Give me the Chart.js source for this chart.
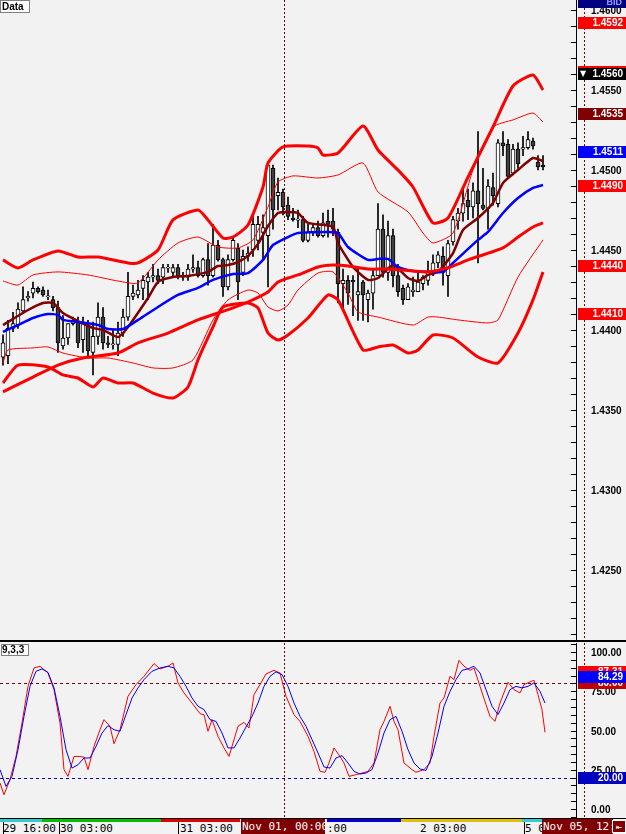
<!DOCTYPE html>
<html><head><meta charset="utf-8">
<script src="https://cdn.jsdelivr.net/npm/chart.js@4.4.1/dist/chart.umd.min.js"></script>
<style>
html,body{margin:0;padding:0;background:#f2f2f2;}
#wrap{position:relative;width:626px;height:834px;overflow:hidden;background:#f2f2f2;font-family:"DejaVu Sans Mono",monospace;}
#c1{position:absolute;left:0;top:0;}
#c2{position:absolute;left:0;top:643px;}
#sep{position:absolute;left:0;top:640px;width:626px;height:2px;background:#000;}
#strip{position:absolute;left:0;top:818px;width:626px;height:16px;background:#f2f2f2;border-top:1px solid #000;box-sizing:border-box;}
.seg{position:absolute;top:0;height:3px;}
.tl{position:absolute;top:3px;font-size:11px;line-height:13px;color:#000;white-space:nowrap;}
.tbox{position:absolute;top:0;height:15px;background:#800000;color:#fff;font-size:11px;line-height:16px;white-space:nowrap;overflow:hidden;}
.tick{position:absolute;top:3px;width:1px;height:12px;background:#000;}
</style></head>
<body><div id="wrap">
<canvas id="c1" width="626" height="640"></canvas>
<div id="sep"></div>
<canvas id="c2" width="626" height="175"></canvas>
<div id="strip"></div>
</div>
<script>
// ---------------- DATA ----------------
const opens = [1.4383,1.4384,1.4401,1.4403,1.4412,1.4420,1.4423,1.4426,1.4425,1.4421,1.4419,1.4414,1.4390,1.4395,1.4404,1.4405,1.4394,1.4403,1.4386,1.4396,1.4408,1.4392,1.4391,1.4391,1.4398,1.4408,1.4421,1.4422,1.4426,1.4430,1.4433,1.4434,1.4433,1.4439,1.4436,1.4439,1.4434,1.4433,1.4438,1.4439,1.4434,1.4444,1.4434,1.4453,1.4444,1.4427,1.4444,1.4451,1.4436,1.4446,1.4450,1.4456,1.4461,1.4459,1.4501,1.4484,1.4486,1.4478,1.4470,1.4469,1.4469,1.4456,1.4461,1.4464,1.4459,1.4468,1.4468,1.4461,1.4429,1.4431,1.4431,1.4422,1.4430,1.4419,1.4423,1.4434,1.4463,1.4436,1.4459,1.4434,1.4426,1.4419,1.4424,1.4424,1.4429,1.4431,1.4436,1.4442,1.4446,1.4434,1.4455,1.4468,1.4473,1.4481,1.4477,1.4487,1.4478,1.4476,1.4489,1.4479,1.4517,1.4516,1.4498,1.4513,1.4513,1.4514,1.4518,1.4505,1.4503];
const highs = [1.4397,1.4406,1.4411,1.4417,1.4427,1.4424,1.4430,1.4427,1.4427,1.4425,1.4421,1.4418,1.4409,1.4404,1.4408,1.4408,1.4408,1.4406,1.4405,1.4417,1.4414,1.4396,1.4400,1.4405,1.4413,1.4436,1.4428,1.4431,1.4434,1.4436,1.4441,1.4438,1.4441,1.4441,1.4441,1.4441,1.4436,1.4441,1.4447,1.4443,1.4445,1.4454,1.4466,1.4456,1.4445,1.4447,1.4458,1.4454,1.4450,1.4452,1.4471,1.4471,1.4472,1.4504,1.4503,1.4495,1.4488,1.4483,1.4476,1.4475,1.4471,1.4466,1.4466,1.4468,1.4473,1.4475,1.4476,1.4463,1.4438,1.4434,1.4434,1.4438,1.4431,1.4425,1.4438,1.4479,1.4472,1.4468,1.4463,1.4441,1.4428,1.4429,1.4433,1.4436,1.4434,1.4443,1.4447,1.4449,1.4452,1.4456,1.4471,1.4476,1.4489,1.4488,1.4492,1.4524,1.4501,1.4494,1.4498,1.4519,1.4524,1.4519,1.4516,1.4517,1.4521,1.4524,1.4520,1.4509,1.4509];
const lows = [1.4378,1.4379,1.4399,1.4401,1.4411,1.4418,1.4420,1.4423,1.4421,1.4419,1.4412,1.4386,1.4388,1.4391,1.4403,1.4389,1.4386,1.4383,1.4372,1.4391,1.4388,1.4389,1.4388,1.4384,1.4396,1.4406,1.4419,1.4420,1.4419,1.4419,1.4430,1.4429,1.4429,1.4436,1.4434,1.4432,1.4431,1.4431,1.4436,1.4433,1.4433,1.4428,1.4433,1.4443,1.4421,1.4425,1.4443,1.4419,1.4434,1.4443,1.4446,1.4450,1.4444,1.4427,1.4463,1.4475,1.4472,1.4469,1.4468,1.4464,1.4455,1.4455,1.4459,1.4458,1.4458,1.4458,1.4459,1.4417,1.4413,1.4416,1.4409,1.4406,1.4406,1.4405,1.4413,1.4434,1.4433,1.4431,1.4427,1.4421,1.4416,1.4419,1.4421,1.4424,1.4425,1.4428,1.4434,1.4439,1.4428,1.4421,1.4453,1.4463,1.4468,1.4469,1.4470,1.4442,1.4475,1.4463,1.4478,1.4477,1.4509,1.4495,1.4497,1.4501,1.4509,1.4513,1.4513,1.4500,1.4500];
const closes = [1.4392,1.4401,1.4404,1.4413,1.4419,1.4421,1.4426,1.4424,1.4422,1.4421,1.4414,1.4392,1.4395,1.4404,1.4406,1.4392,1.4404,1.4387,1.4396,1.4408,1.4392,1.4391,1.4391,1.4398,1.4408,1.4421,1.4423,1.4425,1.4431,1.4433,1.4434,1.4431,1.4439,1.4439,1.4439,1.4434,1.4433,1.4438,1.4439,1.4434,1.4444,1.4434,1.4453,1.4444,1.4427,1.4444,1.4456,1.4430,1.4446,1.4448,1.4466,1.4466,1.4464,1.4503,1.4475,1.4486,1.4477,1.4471,1.4469,1.4469,1.4456,1.4461,1.4464,1.4459,1.4467,1.4466,1.4463,1.4429,1.4431,1.4423,1.4430,1.4424,1.4422,1.4423,1.4434,1.4463,1.4436,1.4459,1.4434,1.4424,1.4419,1.4427,1.4425,1.4430,1.4433,1.4436,1.4442,1.4447,1.4436,1.4454,1.4469,1.4473,1.4479,1.4477,1.4487,1.4479,1.4476,1.4490,1.4484,1.4517,1.4515,1.4496,1.4513,1.4504,1.4514,1.4519,1.4515,1.4502,1.4502];

const maFast = [[0,1.44031],[5,1.44125],[8,1.44169],[10,1.44169],[12,1.44106],[15,1.44056],[18,1.44013],[20,1.44000],[23,1.43956],[25,1.44019],[29,1.44200],[31,1.44300],[34,1.44331],[37,1.44338],[41,1.44363],[43,1.44400],[45,1.44406],[47,1.44425],[49,1.44463],[51,1.44538],[53,1.44650],[55,1.44731],[57,1.44738],[59,1.44731],[61,1.44669],[66,1.44644],[67,1.44544],[70,1.44394],[73,1.44313],[75,1.44325],[78,1.44406],[81,1.44325],[83,1.44306],[85,1.44344],[87,1.44363],[90,1.44481],[92,1.44625],[95,1.44700],[98,1.44794],[100,1.44919],[103,1.45000],[106,1.45075],[108,1.45056]];
const maMid = [[0,1.43988],[3,1.44031],[6,1.44075],[9,1.44100],[11,1.44094],[12,1.44063],[15,1.44050],[19,1.44031],[21,1.44006],[24,1.44006],[27,1.44063],[31,1.44144],[35,1.44219],[39,1.44263],[42,1.44313],[46,1.44350],[49,1.44356],[52,1.44438],[54,1.44531],[57,1.44581],[59,1.44606],[65,1.44613],[67,1.44606],[69,1.44519],[73,1.44438],[75,1.44444],[77,1.44444],[79,1.44394],[82,1.44369],[86,1.44363],[88,1.44363],[90,1.44419],[95,1.44563],[97,1.44613],[100,1.44731],[103,1.44825],[106,1.44888],[108,1.44906]];
const maSlow = [[0,1.43613],[6,1.43706],[11,1.43781],[16,1.43825],[23,1.43856],[27,1.43919],[33,1.43981],[39,1.44063],[46,1.44138],[49,1.44175],[53,1.44238],[55,1.44300],[57,1.44325],[59,1.44344],[63,1.44394],[66,1.44406],[69,1.44400],[73,1.44381],[77,1.44381],[82,1.44369],[85,1.44363],[89,1.44388],[93,1.44438],[100,1.44513],[103,1.44581],[106,1.44644],[108,1.44669]];
const bandOuterUp = [[0,1.44438],[3,1.44388],[6,1.44438],[11,1.44494],[15,1.44456],[19,1.44456],[25,1.44419],[27,1.44419],[31,1.44500],[34,1.44688],[39,1.44750],[41,1.44688],[44,1.44575],[46,1.44581],[49,1.44656],[52,1.44894],[53,1.45044],[56,1.45144],[61,1.45150],[63,1.45138],[64,1.45094],[67,1.45106],[72,1.45275],[75,1.45125],[79,1.45000],[82,1.44894],[86,1.44669],[89,1.44700],[93,1.44956],[98,1.45269],[102,1.45525],[106,1.45594],[108,1.45500]];
const bandOuterLow = [[0,1.43669],[3,1.43781],[9,1.43769],[12,1.43719],[15,1.43700],[18,1.43644],[20,1.43700],[23,1.43669],[26,1.43669],[30,1.43606],[34,1.43575],[37,1.43644],[39,1.43813],[42,1.44019],[44,1.44144],[49,1.44169],[51,1.44138],[53,1.43981],[55,1.43938],[57,1.43969],[61,1.44075],[65,1.44219],[67,1.44188],[72,1.43875],[75,1.43894],[78,1.43906],[81,1.43856],[83,1.43875],[86,1.43969],[90,1.43950],[95,1.43831],[99,1.43794],[103,1.43981],[106,1.44188],[108,1.44363]];
const bandInnerUp = [[0,1.44306],[3,1.44281],[6,1.44344],[11,1.44363],[17,1.44344],[23,1.44306],[27,1.44294],[31,1.44438],[35,1.44544],[39,1.44581],[43,1.44519],[47,1.44513],[50,1.44563],[53,1.44769],[55,1.44925],[58,1.44963],[63,1.44950],[67,1.44969],[72,1.45044],[75,1.44863],[81,1.44738],[84,1.44606],[86,1.44544],[90,1.44606],[94,1.45000],[98,1.45269],[102,1.45313],[106,1.45356],[108,1.45300]];
const bandInnerLow = [[0,1.43794],[1,1.43875],[6,1.43888],[9,1.43894],[12,1.43856],[17,1.43825],[21,1.43825],[26,1.43794],[30,1.43763],[34,1.43763],[38,1.43813],[42,1.44063],[45,1.44188],[49,1.44250],[51,1.44231],[53,1.44144],[55,1.44119],[57,1.44156],[59,1.44250],[63,1.44356],[66,1.44363],[69,1.44231],[71,1.44113],[75,1.44081],[82,1.44031],[85,1.44081],[87,1.44081],[91,1.44063],[97,1.44044],[99,1.44063],[103,1.44331],[108,1.44563]];

const stochK = [[-0.6,16.6],[0.2,9.1],[1.4,18.7],[2.6,33.5],[3.8,54.8],[5.0,78.1],[6.2,89.8],[7.4,90.9],[9.0,86.6],[10.2,76.0],[11.4,54.8],[12.2,25.1],[13.0,20.8],[14.2,33.5],[15.0,33.5],[16.2,33.1],[17.0,25.1],[18.2,39.9],[19.4,50.5],[20.2,56.9],[21.4,52.7],[22.2,41.6],[23.4,50.5],[25.0,71.8],[26.6,79.2],[28.2,84.5],[30.2,92.6],[31.4,89.2],[33.0,90.9],[34.0,93.0],[35.0,80.3],[36.2,73.9],[37.8,67.5],[39.4,60.7],[40.2,60.1],[41.0,49.5],[41.8,56.9],[43.0,46.3],[44.2,38.9],[45.2,33.5],[45.8,39.9],[47.0,52.7],[48.2,55.2],[49.2,51.6],[50.2,72.8],[51.4,79.2],[52.6,86.0],[54.2,88.3],[55.4,86.6],[56.6,71.8],[58.2,60.1],[59.4,55.8],[61.0,46.3],[62.2,36.7],[63.4,24.0],[64.4,23.4],[65.2,29.3],[66.2,38.9],[67.4,33.5],[68.2,29.3],[69.2,20.8],[70.6,21.9],[71.8,22.9],[73.0,24.0],[74.2,29.3],[75.4,50.5],[76.2,55.8],[77.4,65.4],[78.2,55.8],[79.0,50.5],[80.2,29.3],[81.8,25.1],[82.6,23.4],[84.2,25.1],[85.4,29.3],[86.2,46.3],[87.4,67.5],[88.2,70.7],[89.4,84.5],[90.2,82.4],[91.2,94.7],[92.2,90.9],[93.4,88.3],[94.2,89.8],[95.4,78.1],[96.6,66.5],[97.4,59.0],[98.4,55.8],[99.4,67.5],[101.0,80.7],[102.2,76.0],[103.4,73.9],[104.2,79.2],[106.2,82.0],[107.0,72.8],[107.8,63.3],[108.4,48.8]];
const stochD = [[-0.6,25.1],[0.6,14.4],[1.8,20.8],[3.0,37.8],[4.2,59.0],[5.4,78.1],[6.6,87.7],[7.8,89.2],[9.0,87.0],[10.2,77.1],[11.4,59.0],[12.6,37.8],[13.8,26.1],[15.0,28.2],[16.2,32.5],[17.4,32.5],[18.6,39.9],[19.8,48.4],[21.0,53.1],[22.2,50.5],[23.4,49.5],[24.6,60.1],[25.8,70.7],[27.0,77.1],[28.2,82.4],[29.8,87.7],[31.4,89.8],[33.0,90.9],[34.2,89.8],[35.4,84.5],[36.6,78.1],[37.8,70.7],[39.0,65.4],[40.2,63.3],[41.4,56.9],[42.6,55.8],[43.8,48.4],[45.0,38.9],[46.2,38.9],[47.4,45.2],[48.6,52.2],[49.8,59.0],[51.0,67.5],[52.2,78.1],[53.4,84.5],[54.6,87.3],[55.8,85.6],[57.0,78.1],[58.2,67.5],[59.4,59.0],[60.6,52.7],[61.8,44.2],[63.0,35.7],[64.2,26.8],[65.4,26.1],[66.6,32.5],[67.8,34.0],[69.0,29.3],[70.2,24.0],[71.4,22.3],[72.6,22.9],[73.8,25.1],[75.0,35.7],[76.2,48.4],[77.4,56.9],[78.6,59.0],[79.8,49.5],[81.0,37.8],[82.2,29.3],[83.4,25.5],[84.6,24.6],[85.8,33.5],[87.0,48.4],[88.2,65.4],[89.4,74.9],[90.6,82.4],[91.8,88.3],[93.0,89.2],[94.2,90.9],[95.4,86.6],[96.6,76.0],[97.8,65.4],[99.0,60.1],[100.2,67.5],[101.4,76.0],[102.6,78.1],[103.8,77.1],[105.0,78.1],[106.2,80.3],[107.4,74.9],[108.4,67.5]];

const priceTicks = [1.4250,1.4300,1.4350,1.4400,1.4450,1.4500,1.4550,1.4600];
const stochTicks = [0,25,50,75,100];
const priceMarkers = [["1.4592","#ff0000"],["1.4535","#800000"],["1.4511","#0000ff"],["1.4490","#ff0000"],["1.4440","#ff0000"],["1.4410","#ff0000"],["1.4560","#000000"]];
const stochMarkers = [["87.31","#ff0000"],["80.00","#c00000"],["84.29","#0000ff"],["20.00","#0000c0"]];
const timeLabels = [["29 16:00",3],["30 03:00",60],["31 03:00",180],[":00",327],["2 03:00",420],["5 0",525]];
const timeSegs = [[0,42,"#33cccc"],[42,161,"#00c000"],[161,240,"#e00000"],[327,401,"#0000e0"],[401,522,"#e0c000"],[522,542,"#33cccc"]];

// ---------------- CHART HELPERS ----------------
const N = closes.length;
const XMIN = -0.6, XMAX = 114.6;
const dotted = (ctx, x1,y1,x2,y2,color,dash)=>{ctx.save();ctx.strokeStyle=color;ctx.lineWidth=1;ctx.setLineDash(dash||[1,2]);ctx.beginPath();ctx.moveTo(x1,y1);ctx.lineTo(x2,y2);ctx.stroke();ctx.restore();};
const box = (ctx,x,y,w,h,bg,text,font)=>{ctx.fillStyle=bg;ctx.fillRect(x,y,w,h);ctx.fillStyle="#fff";ctx.font=font||"bold 10px 'Liberation Sans'";ctx.textAlign="right";ctx.textBaseline="middle";ctx.fillText(text,x+w-3,y+h/2+0.5);};
const axisLabels = (c,ys,ticks,fmt)=>{c.fillStyle="#000";c.font="bold 10px 'Liberation Sans'";c.textAlign="left";c.textBaseline="middle";for(const v of ticks){c.fillText(fmt(v),591,Math.round(ys.getPixelForValue(v))+1);}};

const wicks = [], bodies = [], bodyColors = [];
for (let i=0;i<N;i++){
  wicks.push({x:i,y:[lows[i],highs[i]]});
  let o=opens[i], c=closes[i];
  if (Math.abs(o-c)<0.00008){ const m=(o+c)/2; o=m-0.00004; c=m+0.00004; }
  bodies.push({x:i,y:[o,c]});
  bodyColors.push(closes[i]>=opens[i] ? "#ffffff" : "#404040");
}
const pts = a => a.map(p=>({x:p[0],y:p[1]}));
const lineDs = (data,color,w)=>({type:'line',data:pts(data),borderColor:color,borderWidth:w,pointRadius:0,tension:0.2,fill:false,order:0});

const xScale = {type:'linear',min:XMIN,max:XMAX,display:false,offset:false};

const pricePlugin = {
  id:'pricedecor',
  beforeDraw(ch){const c=ch.ctx;c.save();c.fillStyle="#f2f2f2";c.fillRect(0,0,ch.width,ch.height);c.restore();},
  afterDraw(ch){
    const c=ch.ctx, ys=ch.scales.y, ax=576;
    c.save();
    c.fillStyle="#000";c.fillRect(ax,0,1,640);
    for(let k=1421;k<=1460;k++){const y=Math.round(ys.getPixelForValue(k/1000))+0.5;c.beginPath();c.strokeStyle="#000";c.lineWidth=1;c.moveTo(ax-5,y);c.lineTo(ax,y);c.stroke();}
    axisLabels(c,ys,priceTicks,v=>v.toFixed(4));
    dotted(c,284.5,0,284.5,640,"#800000",[2,2]);
    dotted(c,584.5,0,584.5,640,"#800000",[2,2]);
    c.fillStyle="#000080";c.fillRect(578,0,48,8);
    c.fillStyle="#9999ff";c.font="bold 9px 'Liberation Sans'";c.textAlign="right";c.textBaseline="middle";c.fillText("BID",622,3);
    for(const [t,col] of priceMarkers){
      const y=Math.round(ys.getPixelForValue(parseFloat(t)));
      if(t==="1.4560"){c.fillStyle="#ff0000";c.fillRect(578,y-8,48,2);}
      box(c,578,y-6,48,12,col,t);
      if(t==="1.4560"){c.fillStyle="#fff";c.font="bold 8px 'DejaVu Sans'";c.textAlign="left";c.fillText("▼",580,y);}
    }
    c.fillStyle="#ffffff";c.fillRect(0,0,30,13);c.strokeStyle="#808080";c.strokeRect(0.5,0.5,29,12);
    c.fillStyle="#000";c.font="bold 10px 'Liberation Sans'";c.textAlign="left";c.textBaseline="middle";c.fillText("Data",2,7);
    c.restore();
  }
};

new Chart(document.getElementById('c1'),{
  type:'bar',
  data:{datasets:[
    lineDs(bandOuterUp,"#ff0000",3),
    lineDs(bandOuterLow,"#ff0000",3),
    lineDs(bandInnerUp,"#ff0000",1),
    lineDs(bandInnerLow,"#ff0000",1),
    lineDs(maSlow,"#ff0000",3),
    lineDs(maMid,"#0000ff",2.5),
    lineDs(maFast,"#800000",2.5),
    {type:'bar',data:bodies,backgroundColor:bodyColors,borderColor:"#000",borderWidth:1,borderSkipped:false,barThickness:4,grouped:false,order:1},
    {type:'bar',data:wicks,backgroundColor:"#000",borderWidth:0,barThickness:1,grouped:false,order:2}
  ]},
  options:{
    responsive:false,animation:false,events:[],
    layout:{padding:0},
    plugins:{legend:{display:false},tooltip:{enabled:false}},
    scales:{
      x:xScale,
      y:{position:'right',min:1.420625,max:1.460625,
        afterFit(s){s.width=50;},
        afterBuildTicks(s){s.ticks=priceTicks.map(v=>({value:v}));},
        grid:{display:false},border:{display:false},
        ticks:{display:false}}
    }
  },
  plugins:[pricePlugin]
});

const stochPlugin = {
  id:'stochdecor',
  beforeDraw(ch){const c=ch.ctx;c.save();c.fillStyle="#f2f2f2";c.fillRect(0,0,ch.width,ch.height);c.restore();},
  beforeDatasetsDraw(ch){
    const c=ch.ctx, ys=ch.scales.y;
    const y80=Math.round(ys.getPixelForValue(80))+0.5, y20=Math.round(ys.getPixelForValue(20))+0.5;
    dotted(c,0,y80,576,y80,"#800000",[3,3]);
    dotted(c,0,y20,576,y20,"#0000c0",[3,3]);
  },
  afterDraw(ch){
    const c=ch.ctx, ys=ch.scales.y, ax=576;
    c.save();
    c.fillStyle="#000";c.fillRect(ax,0,1,175);
    for(let k=-5;k<=105;k+=5){const y=Math.round(ys.getPixelForValue(k))+0.5;if(y<0||y>175)continue;c.beginPath();c.strokeStyle="#000";c.moveTo(ax-5,y);c.lineTo(ax,y);c.stroke();}
    axisLabels(c,ys,stochTicks,v=>v.toFixed(2));
    dotted(c,284.5,0,284.5,175,"#800000",[2,2]);
    dotted(c,584.5,0,584.5,175,"#800000",[2,2]);
    for(const [t,col] of stochMarkers){
      const y=Math.round(ys.getPixelForValue(parseFloat(t)));
      box(c,578,y-6,48,12,col,t);
    }
    c.fillStyle="#ffffff";c.fillRect(1,1,28,12);c.strokeStyle="#808080";c.strokeRect(1.5,1.5,27,11);
    c.fillStyle="#000";c.font="bold 10px 'Liberation Sans'";c.textAlign="left";c.textBaseline="middle";c.fillText("9,3,3",2,7);
    c.restore();
  }
};

new Chart(document.getElementById('c2'),{
  type:'line',
  data:{datasets:[
    {data:pts(stochD),borderColor:"#0000ff",borderWidth:1,pointRadius:0,tension:0,fill:false},
    {data:pts(stochK),borderColor:"#ff0000",borderWidth:1,pointRadius:0,tension:0,fill:false}
  ]},
  options:{
    responsive:false,animation:false,events:[],
    layout:{padding:0},
    plugins:{legend:{display:false},tooltip:{enabled:false}},
    scales:{
      x:xScale,
      y:{position:'right',min:-5.7,max:105.7,
        afterFit(s){s.width=50;},
        afterBuildTicks(s){s.ticks=stochTicks.map(v=>({value:v}));},
        grid:{display:false},border:{display:false},
        ticks:{display:false}}
    }
  },
  plugins:[stochPlugin]
});

// ---------------- TIME STRIP ----------------
const strip=document.getElementById('strip');
let h='';
for(const [a,b,col] of timeSegs) h+=`<div class="seg" style="left:${a}px;width:${b-a}px;background:${col}"></div>`;
for(const x of [3,59,178,524]) h+=`<div class="tick" style="left:${x}px"></div>`;
for(const [t,x] of timeLabels) h+=`<div class="tl" style="left:${x}px">${t}</div>`;
h+=`<div class="tbox" style="left:241px;width:83px;padding-left:1px">Nov 01, 00:00</div>`;
h+=`<div class="tbox" style="left:542px;width:70px;padding-left:1px">Nov 05, 12:</div>`;
h+=`<div class="tbox" style="left:612px;width:14px;text-align:center;font-size:10px;border:1px solid #fff;box-sizing:border-box;height:13px;top:1px;line-height:11px">&#8676;</div>`;
strip.innerHTML=h;
</script>
</body></html>
